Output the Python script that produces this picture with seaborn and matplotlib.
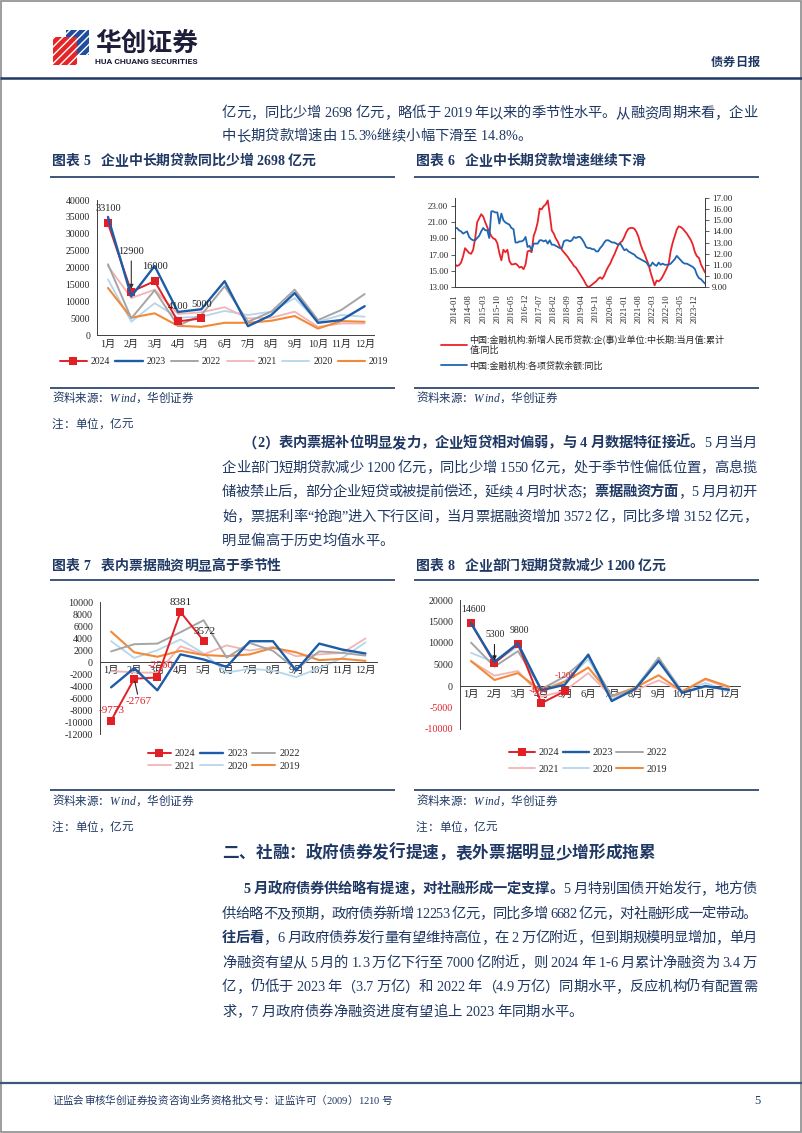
import numpy as np
import matplotlib
matplotlib.use("Agg")
import matplotlib.pyplot as plt
import seaborn as sns
from matplotlib import font_manager, ft2font
from matplotlib.lines import Line2D
from matplotlib.patches import Rectangle, Polygon

sns.set_style("white")
LAT = "Liberation Serif"
CJK = "Noto Sans CJK SC"
plt.rcParams["font.family"] = [LAT, CJK]
plt.rcParams["axes.unicode_minus"] = False

# ---------------- data ----------------
months = ["1月", "2月", "3月", "4月", "5月", "6月", "7月", "8月", "9月", "10月", "11月", "12月"]
years = ["2024", "2023", "2022", "2021", "2020", "2019"]

# Chart 5: medium/long-term corporate loans (亿元)
c5_2024 = [33100, 12900, 16000, 4100, 5000]
c5_2023 = [35000, 11500, 20500, 6900, 7700, 16000, 2700, 6000, 12500, 3700, 4500, 8600]
c5_2022 = [21000, 5000, 13300, 2800, 6000, 14500, 4000, 7000, 13500, 4500, 7500, 12200]
c5_2021 = [20500, 11000, 13500, 6300, 6800, 8300, 5000, 5200, 7000, 2500, 3500, 3500]
c5_2020 = [16500, 4000, 9500, 5200, 5500, 7200, 6000, 7000, 11000, 4000, 6000, 5500]
c5_2019 = [14000, 5200, 6500, 2800, 2500, 3700, 3700, 4300, 5700, 2000, 4200, 4000]
c5_labels = ["33100", "12900", "16000", "4100", "5000"]

# Chart 6: growth rates (2014-01 .. 2024-05)
c6_ticklabels = ["2014-01", "2014-08", "2015-03", "2015-10", "2016-05", "2016-12", "2017-07",
                 "2018-02", "2018-09", "2019-04", "2019-11", "2020-06", "2021-01", "2021-08",
                 "2022-03", "2022-10", "2023-05", "2023-12"]
c6_red = [15.8, 15.6, 15.7, 16.0, 16.8, 17.8, 17.5, 17.2, 17.1, 17.6,
          19.0, 21.0, 21.5, 22.0, 21.7, 21.0, 20.4, 19.8, 19.3, 19.0,
          18.9, 18.4, 17.2, 16.3, 17.6, 17.3, 17.6, 16.2, 15.8, 15.8,
          15.9, 15.7, 15.4, 15.5, 15.2, 15.8, 17.4, 17.5, 17.3, 19.3,
          20.0, 21.0, 22.7, 22.6, 23.0, 23.2, 23.7, 22.0, 20.0, 19.6,
          19.0, 18.6, 18.0, 17.6, 17.3, 17.0, 16.7, 16.3, 16.0, 15.6,
          15.4, 15.0, 14.6, 14.2, 13.8, 13.3, 13.0, 13.1, 13.3, 13.5,
          13.7, 14.0, 14.2, 14.0, 14.4, 15.0, 15.5, 15.9, 16.5, 17.0,
          17.6, 18.2, 18.5, 18.7, 19.2, 19.8, 20.2, 20.3, 20.3, 20.2,
          19.8, 19.2, 18.3, 17.6, 17.1, 16.4, 15.8, 14.8, 14.0, 13.2,
          13.8, 13.7, 13.9, 14.3, 14.8, 15.3, 15.9, 17.5, 18.5, 19.3,
          20.1, 20.5, 20.4, 20.2, 19.9, 19.6, 19.2, 18.8, 18.2, 17.3,
          16.8, 16.6, 15.8, 15.3, 14.8]
c6_blue = [14.3, 14.3, 14.1, 14.0, 13.8, 13.9, 14.0, 13.5, 13.3, 13.2,
           13.2, 13.4, 13.6, 14.0, 14.3, 14.1, 14.1, 13.4, 15.8, 15.8,
           15.7, 15.7, 14.7, 15.6, 15.0, 14.8, 14.7, 14.6, 14.3, 14.2,
           13.0, 13.0, 13.1, 13.1, 13.2, 13.5, 12.6, 12.7, 12.3, 12.9,
           12.9, 12.9, 13.2, 13.2, 13.1, 13.2, 12.9, 13.2, 12.8, 12.8,
           12.7, 12.6, 12.5, 12.5, 13.1, 13.2, 13.2, 13.1, 13.2, 13.5,
           13.4, 13.5, 13.5, 13.3, 13.0, 12.6, 12.5, 12.5, 12.4, 12.4,
           12.2, 12.2, 12.5, 12.7, 13.0, 13.2, 13.2, 13.1, 13.0, 13.0,
           12.9, 12.8, 12.9, 12.6, 12.3, 12.4, 12.2, 12.1, 12.0, 11.9,
           11.7, 11.6, 11.5, 11.4, 11.3, 11.2, 10.9, 10.9, 11.2, 11.0,
           10.9, 11.2, 11.0, 11.1, 11.0, 11.0, 11.0, 11.1, 11.3, 11.5,
           11.8, 11.6, 11.4, 11.2, 11.1, 11.1, 11.0, 10.9, 10.8, 10.6,
           10.1, 9.8, 9.7, 9.5, 9.3]
c6_names = ["中国:金融机构:新增人民币贷款:企(事)业单位:中长期:当月值:累计\n值:同比",
            "中国:金融机构:各项贷款余额:同比"]

# Chart 7: bill financing (亿元)
c7_2024 = [-9773, -2767, -2560, 8381, 3572]
c7_2023 = [-4200, -1000, -4700, 1300, 450, -800, 3500, 3500, -1400, 3100, 2100, 1450]
c7_2022 = [1800, 3000, 3100, 5000, 7000, 750, 3200, 1900, -1200, 1800, 1550, 1100]
c7_2021 = [-1500, -1700, -1800, 2650, 1300, 2800, 1950, 2550, 1000, 1300, 1550, 3950]
c7_2020 = [3500, 700, 2000, 3800, 1450, -1750, -1100, -1400, -2500, -1000, 700, 3300]
c7_2019 = [5100, 1650, 900, 1900, 1200, 1000, 1300, 2400, 1650, 330, 560, 220]
c7_labels = ["-9773", "-2767", "-2560", "8381", "3572"]

# Chart 8: corporate short-term loans (亿元)
c8_2024 = [14600, 5300, 9800, -4000, -1200]
c8_2023 = [14600, 5600, 9900, -1000, 300, 7300, -3500, -700, 5800, -1600, 0, -900]
c8_2022 = [10100, 4500, 8100, -700, 2200, 6900, -2300, -700, 6600, -1500, -200, -800]
c8_2021 = [5800, 2400, 3500, -2500, -1100, 3000, -2500, -1000, 1300, -1200, 1500, -500]
c8_2020 = [7700, 5500, 9200, -800, 1200, 6200, -3100, -400, 6500, -1100, 700, -1200]
c8_2019 = [5800, 1400, 3000, -1200, 1000, 4300, -2300, -400, 2500, -1300, 1700, -150]
c8_labels = ["14600", "5300", "9800", "-4000", "-1200"]

# ---------------- style ----------------
NAVY = "#1F3864"
COL = {"2024": "#E31F26", "2023": "#1C5CA8", "2022": "#A5A5A5",
       "2021": "#F2B4B2", "2020": "#B5D6EC", "2019": "#F08A3A"}
LW = {"2024": 1.4, "2023": 1.7, "2022": 1.4, "2021": 1.3, "2020": 1.3, "2019": 1.5}
ZO = {"2024": 5, "2023": 6, "2022": 4, "2021": 3, "2020": 2, "2019": 3.5}
SPINE = "#404040"

W, H = 802, 1133
fig = plt.figure(figsize=(W / 100, H / 100), dpi=100)
fig.patch.set_facecolor("white")


def FY(y):
    return 1 - y / H


def add_ax(x0, y0, x1, y1):
    ax = fig.add_axes([x0 / W, 1 - y1 / H, (x1 - x0) / W, (y1 - y0) / H])
    ax.patch.set_alpha(0)
    return ax


# ---------- rich text with per-glyph layout ----------
_fonts = {}


def get_font(fam, bold):
    key = (fam, bold)
    if key not in _fonts:
        fp = font_manager.FontProperties(family=fam, weight="bold" if bold else "normal")
        _fonts[key] = ft2font.FT2Font(font_manager.findfont(fp))
    return _fonts[key]


def has_glyph(fam, ch):
    return get_font(fam, False).get_char_index(ord(ch)) != 0


def advance(ch, fam, bold, size):
    f = get_font(fam, bold)
    f.set_size(size, 100)
    g = f.load_char(ord(ch))
    return g.linearHoriAdvance / 65536.0


def text_line(x0, yc, segs, size=10.3, x1=None, color=NAVY, style="normal"):
    items = []
    for txt, b in segs:
        for ch in txt:
            fam = LAT if has_glyph(LAT, ch) else CJK
            items.append((ch, b, fam, advance(ch, fam, b, size)))
    nat = sum(it[3] for it in items)
    extra = 0.0
    if x1 is not None and len(items) > 1:
        extra = (x1 - x0 - nat) / (len(items) - 1)
    x = x0
    yb = yc + size * 100 / 72 * 0.36
    for ch, b, fam, w in items:
        if ch != " ":
            fig.text(x / W, FY(yb), ch, fontsize=size, family=fam,
                     fontweight="bold" if b else "normal", style=style,
                     color=color, ha="left", va="baseline")
        x += w + extra


def hline(x0, x1, y, lw=1.2, color=NAVY):
    fig.add_artist(Line2D([x0 / W, x1 / W], [FY(y), FY(y)], transform=fig.transFigure,
                          color=color, lw=lw, solid_capstyle="butt"))


# ---------------- page frame / header / footer ----------------
fig.add_artist(Rectangle((0.001, 0.001), 0.998, 0.998, transform=fig.transFigure,
                         fill=False, edgecolor="#8C8C8C", lw=1.2))
# logo
fig.add_artist(Rectangle((66 / W, FY(55)), 23 / W, 25 / H, transform=fig.transFigure,
                         facecolor="#1F4E9C", edgecolor="white", hatch="////", lw=0))
fig.add_artist(Polygon([(53 / W, FY(37)), (77 / W, FY(37)), (77 / W, FY(65)), (53 / W, FY(65))],
                       closed=True, transform=fig.transFigure, facecolor="#E52629",
                       edgecolor="white", hatch="////", lw=0))
fig.text(95 / W, FY(43), "华创证券", fontsize=18.5, fontweight="bold", family=CJK,
         color="#1D1D3A", ha="left", va="center")
fig.text(95 / W, FY(62), "HUA CHUANG SECURITIES", fontsize=6.1, fontweight="bold",
         family="Roboto", color="#1D1D3A", ha="left", va="center")
text_line(711, 62, [("债券日报", True)], size=8.8)
hline(0, W, 78, lw=1.8)

hline(0, W, 1083, lw=1.6, color="#3B5878")
text_line(52, 1100, [("证监会审核华创证券投资咨询业务资格批文号：证监许可（2009）1210 号", False)], size=7.6)
text_line(754, 1100, [("5", False)], size=9)

# ---------------- body text ----------------
XL, XR = 222, 757
LS = 24.5
text_line(XL, 112, [("亿元，同比少增 2698 亿元，略低于 2019 年以来的季节性水平。从融资周期来看，企业", False)], x1=XR)
text_line(XL, 135, [("中长期贷款增速由 15.3%继续小幅下滑至 14.8%。", False)])

p2 = 442
text_line(243, p2, [("（2）表内票据补位明显发力，企业短贷相对偏弱，与 4 月数据特征接近。", True), ("5 月当月", False)], x1=XR)
text_line(XL, p2 + LS, [("企业部门短期贷款减少 1200 亿元，同比少增 1550 亿元，处于季节性偏低位置，高息揽", False)], x1=XR)
text_line(XL, p2 + 2 * LS, [("储被禁止后，部分企业短贷或被提前偿还，延续 4 月时状态；", False), ("票据融资方面", True), ("，5 月月初开", False)], x1=XR)
text_line(XL, p2 + 3 * LS, [("始，票据利率“抢跑”进入下行区间，当月票据融资增加 3572 亿，同比多增 3152 亿元，", False)], x1=XR)
text_line(XL, p2 + 4 * LS, [("明显偏高于历史均值水平。", False)])

text_line(XL, 852, [("二、社融：政府债券发行提速，表外票据明显少增形成拖累", True)], size=12)
p3 = 888
text_line(243, p3, [("5 月政府债券供给略有提速，对社融形成一定支撑。", True), ("5 月特别国债开始发行，地方债", False)], x1=XR)
text_line(XL, p3 + LS, [("供给略不及预期，政府债券新增 12253 亿元，同比多增 6682 亿元，对社融形成一定带动。", False)], x1=XR)
text_line(XL, p3 + 2 * LS, [("往后看", True), ("，6 月政府债券发行量有望维持高位，在 2 万亿附近，但到期规模明显增加，单月", False)], x1=XR)
text_line(XL, p3 + 3 * LS, [("净融资有望从 5 月的 1.3 万亿下行至 7000 亿附近，则 2024 年 1-6 月累计净融资为 3.4 万", False)], x1=XR)
text_line(XL, p3 + 4 * LS, [("亿，仍低于 2023 年（3.7 万亿）和 2022 年（4.9 万亿）同期水平，反应机构仍有配置需", False)], x1=XR)
text_line(XL, p3 + 5 * LS, [("求，7 月政府债券净融资进度有望追上 2023 年同期水平。", False)])

# ---------------- chart frames ----------------
LX0, LX1, RX0, RX1 = 50, 395, 414, 759
text_line(52, 160, [("图表 5   企业中长期贷款同比少增 2698 亿元", True)], size=10)
text_line(416, 160, [("图表 6   企业中长期贷款增速继续下滑", True)], size=10)
text_line(52, 565, [("图表 7   表内票据融资明显高于季节性", True)], size=10)
text_line(416, 565, [("图表 8   企业部门短期贷款减少 1200 亿元", True)], size=10)
for y in (177, 388, 580, 790):
    hline(LX0, LX1, y)
    hline(RX0, RX1, y)
for x in (52, 416):
    text_line(x, 398, [("资料来源：Wind，华创证券", False)], size=8.3, style="italic")
    text_line(x, 801, [("资料来源：Wind，华创证券", False)], size=8.3, style="italic")
    text_line(x, 827, [("注：单位，亿元", False)], size=8.3, style="italic")
text_line(52, 424, [("注：单位，亿元", False)], size=8.3, style="italic")

# ---------------- helper for monthly charts ----------------
series5 = {"2024": c5_2024, "2023": c5_2023, "2022": c5_2022, "2021": c5_2021, "2020": c5_2020, "2019": c5_2019}
series7 = {"2024": c7_2024, "2023": c7_2023, "2022": c7_2022, "2021": c7_2021, "2020": c7_2020, "2019": c7_2019}
series8 = {"2024": c8_2024, "2023": c8_2023, "2022": c8_2022, "2021": c8_2021, "2020": c8_2020, "2019": c8_2019}


def draw_monthly(ax, series, msize=5.5):
    for yr in years:
        vals = series[yr]
        kw = dict(color=COL[yr], linewidth=LW[yr], zorder=ZO[yr])
        if yr == "2024":
            kw.update(marker="s", markersize=msize, markeredgewidth=0)
        sns.lineplot(x=list(range(len(vals))), y=vals, ax=ax, **kw)
    ax.set_xticks(range(12))
    ax.set_xticklabels(months)
    ax.set_xticks(np.arange(-0.5, 12, 1), minor=True)
    ax.tick_params(axis="x", which="major", length=0, labelsize=7.5, pad=3)
    ax.tick_params(axis="x", which="minor", length=3, width=0.6, color=SPINE, direction="out")
    ax.tick_params(axis="y", length=3, width=0.6, color=SPINE, direction="out", labelsize=7.2, pad=2)
    for s in ("top", "right"):
        ax.spines[s].set_visible(False)
    for s in ("left", "bottom"):
        ax.spines[s].set_color(SPINE)
        ax.spines[s].set_linewidth(0.7)
    ax.set_xlabel("")
    ax.set_ylabel("")
    ax.grid(False)


def proxies(order, msize=5.5):
    hs = []
    for yr in order:
        if yr == "2024":
            hs.append(Line2D([], [], color=COL[yr], lw=LW[yr], marker="s", markersize=msize, markeredgewidth=0))
        else:
            hs.append(Line2D([], [], color=COL[yr], lw=LW[yr]))
    return hs


# ---------------- chart 5 ----------------
ax5 = add_ax(97, 200, 374, 335.3)
draw_monthly(ax5, series5)
ax5.set_xlim(-0.47, 11.4)
ax5.set_ylim(0, 40000)
ax5.set_yticks(range(0, 40001, 5000))
ax5.set_yticklabels([str(v) for v in range(0, 40001, 5000)])
ax5.tick_params(axis="y", labelsize=7)
ax5.tick_params(axis="x", labelsize=7.2)
lab5_pos = [(0, 37600), (1, 24700), (2, 20200), (3, 8450), (4, 9250)]
for (xx, yy), s in zip(lab5_pos, c5_labels):
    ax5.text(xx, yy, s, ha="center", va="center", fontsize=7.5, color="#222222", zorder=10, clip_on=False)
ax5.annotate("", xy=(1, c5_2024[1]), xytext=(1, 22800),
             arrowprops=dict(arrowstyle="-|>", color="#333333", lw=0.8, mutation_scale=6), zorder=9)
ax5.legend(proxies(years), years, loc="center", bbox_to_anchor=(224 / W, FY(362)),
           bbox_transform=fig.transFigure, ncol=6, frameon=False, fontsize=7,
           handlelength=2.8, handletextpad=0.4, columnspacing=0.55, borderpad=0)

# ---------------- chart 6 ----------------
ax6 = add_ax(455, 198, 705, 287)
x6 = list(range(len(c6_red)))
sns.lineplot(x=x6, y=c6_red, ax=ax6, color="#E8232A", linewidth=1.3)
ax6.set_xlim(0, len(c6_red) - 1)
ax6.set_ylim(13, 24)
ax6.set_yticks([13, 15, 17, 19, 21, 23])
ax6.set_yticklabels(["%.2f" % v for v in [13, 15, 17, 19, 21, 23]])
ax6.set_xticks(range(0, len(c6_red), 7))
ax6.set_xticklabels(c6_ticklabels, rotation=90)
ax6.tick_params(axis="x", length=3, width=0.6, color=SPINE, direction="out", labelsize=6.2, pad=2)
ax6.tick_params(axis="y", length=3, width=0.6, color=SPINE, direction="out", labelsize=6.5, pad=2)
ax6b = ax6.twinx()
ax6b.patch.set_alpha(0)
sns.lineplot(x=x6, y=c6_blue, ax=ax6b, color="#1F66B1", linewidth=1.3)
ax6b.set_ylim(9, 17)
ax6b.set_yticks(range(9, 18))
ax6b.set_yticklabels(["%.2f" % v for v in range(9, 18)])
ax6b.tick_params(axis="y", length=3, width=0.6, color=SPINE, direction="out", labelsize=6.5, pad=2)
for a in (ax6, ax6b):
    a.set_xlabel("")
    a.set_ylabel("")
    a.grid(False)
    a.spines["top"].set_visible(False)
    for s in ("left", "right", "bottom"):
        a.spines[s].set_color(SPINE)
        a.spines[s].set_linewidth(0.7)
h6 = [Line2D([], [], color="#E8232A", lw=1.3), Line2D([], [], color="#1F66B1", lw=1.3)]
leg6 = ax6.legend(h6, c6_names, loc="upper left", bbox_to_anchor=(436 / W, FY(330)),
                  bbox_transform=fig.transFigure, frameon=False, fontsize=6.5,
                  handlelength=2.9, handletextpad=0.3, labelspacing=0.7, borderpad=0)
for t in leg6.get_texts():
    t.set_family(CJK)

# ---------------- chart 7 ----------------
ax7 = add_ax(100, 602.3, 377, 734)
draw_monthly(ax7, series7)
ax7.set_xlim(-0.48, 11.5)
ax7.set_ylim(-12000, 10000)
ax7.set_yticks(range(-12000, 10001, 2000))
ax7.set_yticklabels([str(v) for v in range(-12000, 10001, 2000)])
ax7.spines["bottom"].set_position(("data", 0))
lab7_pos = [(0.04, -8000), (1.21, -6650), (2.12, -640), (2.99, 10050), (4.03, 5200)]
lab7_col = ["#E31F26", "#E31F26", "#E31F26", "#222222", "#222222"]
for (xx, yy), s, c in zip(lab7_pos, c7_labels, lab7_col):
    ax7.text(xx, yy, s, ha="center", va="center", fontsize=8, color=c, zorder=10, clip_on=False)
ax7.annotate("", xy=(1, c7_2024[1]), xytext=(1.17, -5800),
             arrowprops=dict(arrowstyle="-", color="#222222", lw=0.8), zorder=9)
order7 = ["2024", "2021", "2023", "2020", "2022", "2019"]
ax7.legend(proxies(order7), order7, loc="center", bbox_to_anchor=(224 / W, FY(760)),
           bbox_transform=fig.transFigure, ncol=3, frameon=False, fontsize=7.5,
           handlelength=2.2, handletextpad=0.4, columnspacing=0.45, labelspacing=0.35, borderpad=0)

# ---------------- chart 8 ----------------
ax8 = add_ax(460, 600, 740, 729)
draw_monthly(ax8, series8)
ax8.set_xlim(-0.47, 11.47)
ax8.set_ylim(-10000, 20000)
ax8.set_yticks(range(-10000, 20001, 5000))
ax8.set_yticklabels([str(v) for v in range(-10000, 20001, 5000)])
for t, v in zip(ax8.get_yticklabels(), range(-10000, 20001, 5000)):
    if v < 0:
        t.set_color("#E31F26")
ax8.spines["bottom"].set_position(("data", 0))
lab8_pos = [(0.09, 17900), (1.02, 11900), (2.05, 12800), (2.86, -1200), (4.01, 2300)]
lab8_col = ["#222222", "#222222", "#222222", "#E31F26", "#E31F26"]
lab8_sz = [7, 7, 7, 6, 6.5]
for (xx, yy), s, c, z in zip(lab8_pos, c8_labels, lab8_col, lab8_sz):
    ax8.text(xx, yy, s, ha="center", va="center", fontsize=z, color=c, zorder=10, clip_on=False)
ax8.annotate("", xy=(1, c8_2024[1]), xytext=(1, 10300),
             arrowprops=dict(arrowstyle="-|>", color="#222222", lw=0.8, mutation_scale=6), zorder=9)
ax8.legend(proxies(order7), order7, loc="center", bbox_to_anchor=(588 / W, FY(761)),
           bbox_transform=fig.transFigure, ncol=3, frameon=False, fontsize=7.5,
           handlelength=2.5, handletextpad=0.4, columnspacing=0.3, labelspacing=0.7, borderpad=0)

fig.savefig("out.png", dpi=100, facecolor="white")
